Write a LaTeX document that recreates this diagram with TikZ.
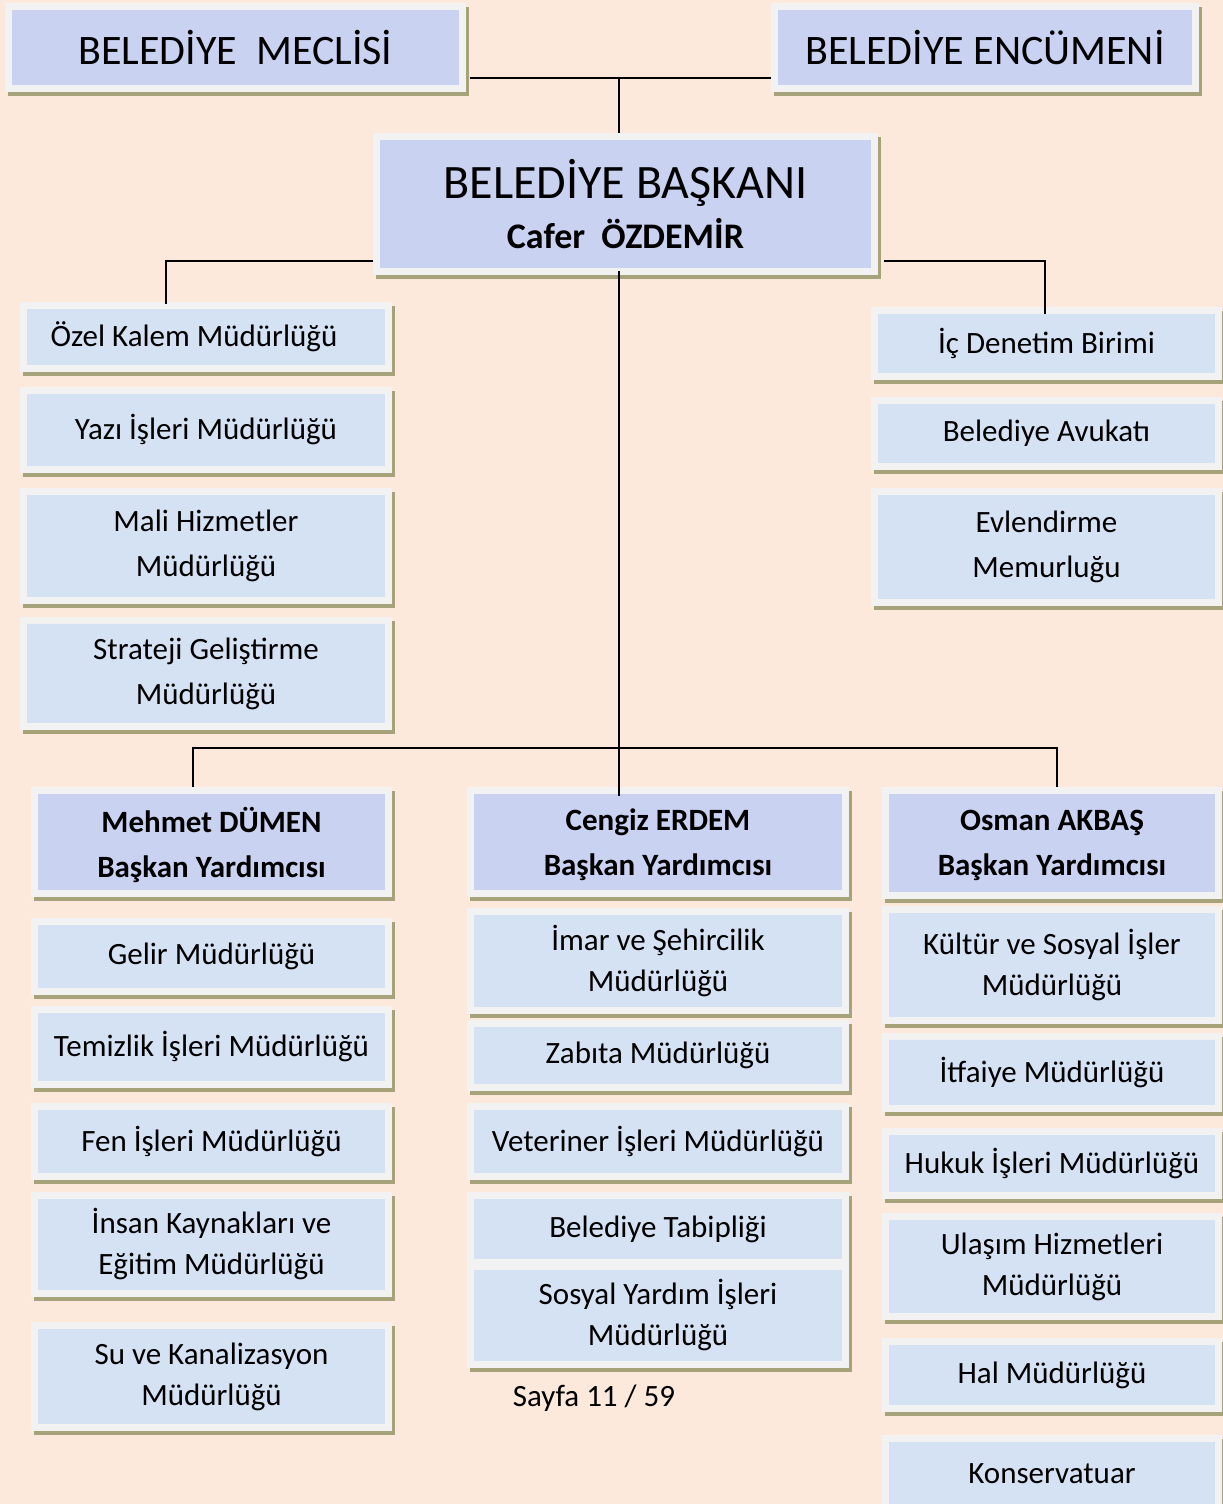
\documentclass[tikz,border=0pt]{standalone}
\usepackage{fontspec}
\setmainfont{Carlito}
\usepackage{xcolor}
\usepackage{tikz}
\usetikzlibrary{shadows, calc, positioning}

\definecolor{pagebg}{RGB}{252,233,219}
\definecolor{framegray}{RGB}{242,242,242}
\definecolor{cellblue}{RGB}{213,226,244}
\definecolor{headblue}{RGB}{202,210,242}
\definecolor{shadowolive}{RGB}{166,163,122}

\begin{document}
\begin{tikzpicture}[
    x=1pt, y=-1pt,
    dept/.style={rectangle, draw=framegray, line width=7pt, fill=cellblue, inner sep=0pt, align=center,
        font=\fontsize{31}{41}\selectfont,
        general shadow={fill=shadowolive, draw=shadowolive, line width=7pt, shadow xshift=3pt, shadow yshift=-4pt}},
    wide/.style={font=\fontsize{31}{45}\selectfont},
    head/.style={dept, fill=headblue, text depth=0pt, font=\fontsize{31}{45}\selectfont\bfseries},
    title/.style={dept, fill=headblue, font=\fontsize{42}{48}\selectfont},
    link/.style={draw=black, line width=2pt}
]

% sayfa
\useasboundingbox (0,0) rectangle (1223,1504);
\fill[pagebg] (0,0) rectangle (1223,1504);
\clip (0,0) rectangle (1223,1504);

% ust kademe
\node[title, minimum width=454pt, minimum height=82pt] (meclis) at (235.5,47.5) {BELEDİYE\ \ MECLİSİ};
\node[title, minimum width=421pt, minimum height=82pt] (encumen) at (985,47.5) {BELEDİYE ENCÜMENİ};
\node[title, minimum width=498pt, minimum height=135pt, font=\fontsize{48}{50}\selectfont] (baskan) at (625.5,204)
    {BELEDİYE BAŞKANI\\{\fontsize{36}{40}\selectfont\bfseries Cafer\ \ ÖZDEMİR}};

% baskana bagli birimler - sol
\node[dept, minimum width=365pt, minimum height=63pt] (ozel) at (206,337) {Özel Kalem Müdürlüğü\hspace*{24pt}};
\node[dept, minimum width=365pt, minimum height=79pt] (yazi) at (206,430) {Yazı İşleri Müdürlüğü};
\node[dept, wide, minimum width=365pt, minimum height=109pt] (mali) at (206,546) {Mali Hizmetler\\Müdürlüğü};
\node[dept, wide, minimum width=365pt, minimum height=106pt] (strateji) at (206,673.5) {Strateji Geliştirme\\Müdürlüğü};

% baskana bagli birimler - sag
\node[dept, minimum width=344pt, minimum height=66pt] (icdenetim) at (1046.5,343.5) {İç Denetim Birimi};
\node[dept, minimum width=344pt, minimum height=66pt] (avukat) at (1046.5,433.5) {Belediye Avukatı};
\node[dept, wide, minimum width=344pt, minimum height=111pt] (evlendirme) at (1046.5,547) {Evlendirme\\Memurluğu};

% baskan yardimcilari
\node[head, minimum width=354pt, minimum height=103pt] (mehmet) at (211.5,842) {Mehmet DÜMEN\\Başkan Yardımcısı};
\node[head, minimum width=375pt, minimum height=103pt] (cengiz) at (658,842) {Cengiz ERDEM\\Başkan Yardımcısı};
\node[head, minimum width=333pt, minimum height=105pt] (osman) at (1052,843) {Osman AKBAŞ\\Başkan Yardımcısı};

% Mehmet DÜMEN birimleri
\node[dept, minimum width=354pt, minimum height=70pt] (gelir) at (211.5,956.5) {Gelir Müdürlüğü};
\node[dept, minimum width=354pt, minimum height=75pt] (temizlik) at (211.5,1047) {Temizlik İşleri Müdürlüğü};
\node[dept, minimum width=354pt, minimum height=70pt] (fen) at (211.5,1141.5) {Fen İşleri Müdürlüğü};
\node[dept, minimum width=354pt, minimum height=98pt] (insan) at (211.5,1244.5) {İnsan Kaynakları ve\\Eğitim Müdürlüğü};
\node[dept, minimum width=354pt, minimum height=102pt] (su) at (211.5,1376.5) {Su ve Kanalizasyon\\Müdürlüğü};

% Cengiz ERDEM birimleri
\node[dept, minimum width=375pt, minimum height=99pt] (imar) at (658,961) {İmar ve Şehircilik\\Müdürlüğü};
\node[dept, minimum width=375pt, minimum height=64pt] (zabita) at (658,1055.5) {Zabıta Müdürlüğü};
\node[dept, minimum width=375pt, minimum height=70pt] (veteriner) at (658,1141.5) {Veteriner İşleri Müdürlüğü};
\node[dept, minimum width=375pt, minimum height=67pt] (tabip) at (658,1229) {Belediye Tabipliği};
\node[dept, minimum width=375pt, minimum height=98pt] (sosyal) at (658,1315.5) {Sosyal Yardım İşleri\\Müdürlüğü};

% Osman AKBAŞ birimleri
\node[dept, minimum width=333pt, minimum height=111pt] (kultur) at (1052,965) {Kültür ve Sosyal İşler\\Müdürlüğü};
\node[dept, minimum width=333pt, minimum height=72pt] (itfaiye) at (1052,1072.5) {İtfaiye Müdürlüğü};
\node[dept, minimum width=333pt, minimum height=64pt] (hukuk) at (1052,1163.5) {Hukuk İşleri Müdürlüğü};
\node[dept, minimum width=333pt, minimum height=100pt] (ulasim) at (1052,1266.5) {Ulaşım Hizmetleri\\Müdürlüğü};
\node[dept, minimum width=333pt, minimum height=67pt] (hal) at (1052,1375) {Hal Müdürlüğü};
\node[dept, minimum width=333pt, minimum height=70pt] (konservatuar) at (1052,1473.5) {Konservatuar};

% sayfa numarasi
\node[font=\fontsize{31}{41}\selectfont] (sayfa) at (594,1398) {Sayfa 11 / 59};

% baglanti noktalari
\coordinate (top) at (619,78);
\coordinate (lb) at (166,261);
\coordinate (rb) at (1045,261);
\coordinate (spine) at (619,748);
\coordinate (lv) at (193,748);
\coordinate (rv) at (1057,748);

% baglantilar
\draw[link] ([xshift=4pt]meclis.east |- top) -- (encumen.west |- top);
\draw[link] (top) -- (baskan.north -| top);
\draw[link] (baskan.west |- lb) -- (lb) -- ([yshift=-2pt]lb |- ozel.north);
\draw[link] ([xshift=6pt]baskan.east |- rb) -- (rb) -- ([yshift=-7pt]rb |- icdenetim.north);
\draw[link] ([yshift=4pt]baskan.south -| spine) -- ([yshift=-9pt]cengiz.north -| spine);
\draw[link] (lv |- mehmet.north) -- (lv) -- (rv) -- (rv |- osman.north);

\end{tikzpicture}
\end{document}
